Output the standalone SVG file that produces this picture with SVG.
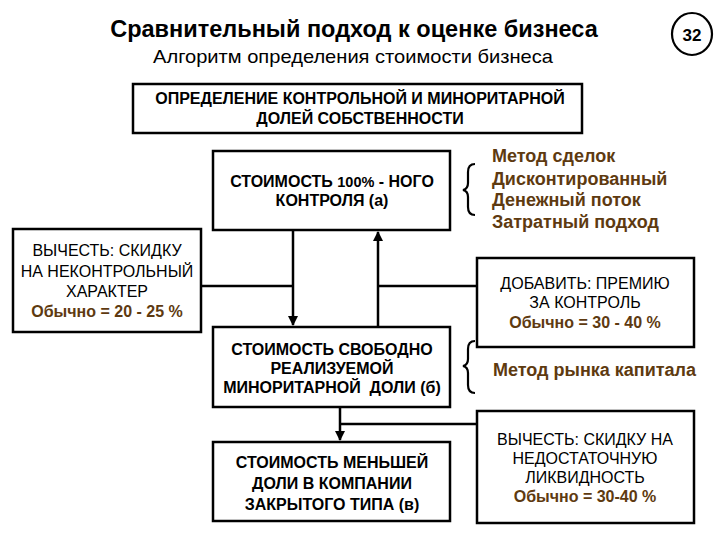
<svg xmlns="http://www.w3.org/2000/svg" width="720" height="540" viewBox="0 0 720 540">
<style>
text{font-family:"Liberation Sans",Arial,sans-serif;fill:#000}
.box{fill:#fff;stroke:#000;stroke-width:2.5}
.c{text-anchor:middle}
.b{font-weight:bold}
.n{font-size:16px}
.bx{font-size:16px;font-weight:bold}
.br{fill:#5e3a10;font-weight:bold}
.ln{fill:none;stroke:#000;stroke-width:2.5}
.brace{fill:none;stroke:#000;stroke-width:2.2}
</style>
<defs>
<marker id="ah" viewBox="0 0 10 10" refX="9" refY="5" markerWidth="4" markerHeight="4" orient="auto">
<path d="M0,0 L10,5 L0,10 z" fill="#000"/>
</marker>
</defs>
<rect width="720" height="540" fill="#fff"/>
<g id="title">
<text x="354" y="37" class="c b" font-size="23.5">Сравнительный подход к оценке бизнеса</text>
<text x="353" y="63" class="c" font-size="19" textLength="400" lengthAdjust="spacingAndGlyphs">Алгоритм определения стоимости бизнеса</text>
</g>
<g id="page">
<ellipse cx="692" cy="34" rx="20" ry="21" fill="#fff" stroke="#000" stroke-width="2.2"/>
<text x="692" y="40.5" class="c b" font-size="17">32</text>
</g>
<g id="n1">
<rect class="box" x="133" y="84" width="449" height="49"/>
<text x="360" y="104" class="c bx">ОПРЕДЕЛЕНИЕ КОНТРОЛЬНОЙ И МИНОРИТАРНОЙ</text>
<text x="360" y="124" class="c bx">ДОЛЕЙ СОБСТВЕННОСТИ</text>
</g>
<g id="na">
<rect class="box" x="213" y="151" width="237" height="79"/>
<text x="332" y="187" class="c bx">СТОИМОСТЬ <tspan style="font-size:14.5px">100%</tspan> - НОГО</text>
<text x="332" y="206" class="c bx">КОНТРОЛЯ (а)</text>
</g>
<g id="methods1">
<path class="brace" d="M475,164 Q468,164 468,172 L468,183 Q468,189 463,190 Q468,191 468,197 L468,207 Q468,215 475,215"/>
<text x="492" y="162" class="br" font-size="18">Метод сделок</text>
<text x="492" y="185" class="br" font-size="18">Дисконтированный</text>
<text x="492" y="206" class="br" font-size="18">Денежный поток</text>
<text x="492" y="228" class="br" font-size="18">Затратный подход</text>
</g>
<g id="nleft">
<rect class="box" x="13" y="229" width="188" height="103"/>
<text x="107" y="256" class="c n">ВЫЧЕСТЬ: СКИДКУ</text>
<text x="107" y="277" class="c n">НА НЕКОНТРОЛЬНЫЙ</text>
<text x="107" y="297" class="c n">ХАРАКТЕР</text>
<text x="107" y="317" class="c br" font-size="16">Обычно = 20 - 25 %</text>
</g>
<g id="nright1">
<rect class="box" x="477" y="258" width="217" height="89"/>
<text x="585" y="289" class="c n">ДОБАВИТЬ: ПРЕМИЮ</text>
<text x="585" y="308" class="c n">ЗА КОНТРОЛЬ</text>
<text x="585" y="328" class="c br" font-size="16">Обычно = 30 - 40 %</text>
</g>
<g id="nb">
<rect class="box" x="213" y="327" width="237" height="80"/>
<text x="332" y="355" class="c bx">СТОИМОСТЬ СВОБОДНО</text>
<text x="332" y="374" class="c bx">РЕАЛИЗУЕМОЙ</text>
<text x="332" y="393" class="c bx" xml:space="preserve">МИНОРИТАРНОЙ  ДОЛИ (б)</text>
</g>
<g id="methods2">
<path class="brace" d="M475,341 Q468,341 468,349 L468,359 Q468,365 463,366 Q468,367 468,373 L468,385 Q468,393 475,393"/>
<text x="493" y="376" class="br" font-size="18">Метод рынка капитала</text>
</g>
<g id="nc">
<rect class="box" x="213" y="442" width="237" height="79"/>
<text x="332" y="468" class="c bx">СТОИМОСТЬ МЕНЬШЕЙ</text>
<text x="332" y="489" class="c bx">ДОЛИ В КОМПАНИИ</text>
<text x="332" y="510" class="c bx">ЗАКРЫТОГО ТИПА (в)</text>
</g>
<g id="nright2">
<rect class="box" x="477" y="411" width="217" height="112"/>
<text x="585" y="445" class="c n">ВЫЧЕСТЬ: СКИДКУ НА</text>
<text x="585" y="464" class="c n">НЕДОСТАТОЧНУЮ</text>
<text x="585" y="483" class="c n">ЛИКВИДНОСТЬ</text>
<text x="585" y="502" class="c br" font-size="16">Обычно = 30-40 %</text>
</g>
<g id="connectors">
<line class="ln" x1="293" y1="231" x2="293" y2="325" marker-end="url(#ah)"/>
<line class="ln" x1="201" y1="286" x2="293" y2="286"/>
<line class="ln" x1="378" y1="326" x2="378" y2="232" marker-end="url(#ah)"/>
<line class="ln" x1="477" y1="286" x2="378" y2="286"/>
<line class="ln" x1="340" y1="408" x2="340" y2="440" marker-end="url(#ah)"/>
<line class="ln" x1="340" y1="424" x2="477" y2="424"/>
</g>
</svg>
